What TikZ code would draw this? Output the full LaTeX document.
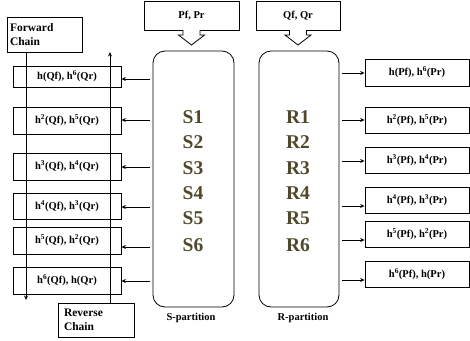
\documentclass[tikz,border=0pt]{standalone}
\usepackage{fontspec}
\setmainfont{Liberation Serif}
\usetikzlibrary{arrows.meta}
\definecolor{olive}{RGB}{79,73,41}
\begin{document}
\begin{tikzpicture}[x=1pt,y=-1pt,
  every node/.style={font=\bfseries},
  hbox/.style={draw,line width=0.8pt,minimum width=#1,inner sep=0pt,font=\bfseries\fontsize{10.5}{12}\selectfont},
  part/.style={draw,line width=0.8pt,rounded corners=12pt},
  sr/.style={text=olive,font=\bfseries\fontsize{19.5}{20}\selectfont},
  lab/.style={font=\bfseries\fontsize{10.5}{12}\selectfont},
  chainbox/.style={draw,line width=0.8pt,inner sep=0pt,align=left,font=\bfseries\fontsize{11.5}{14}\selectfont},
  arr/.style={line width=0.8pt,-{Stealth[length=4.5pt,width=4pt]}},
  ln/.style={line width=0.8pt}]
\useasboundingbox (0,0) rectangle (470,340);
% top input boxes
\node[draw,line width=0.8pt,minimum width=95pt,minimum height=29pt,inner sep=0pt,lab] (pf) at (191.5,15.5) {Pf, Pr};
\node[draw,line width=0.8pt,minimum width=84pt,minimum height=29pt,inner sep=0pt,lab] (qf) at (298,15.5) {Qf, Qr};
% block arrows
\foreach \c/\n in {191.5/pf,298/qf}{
  \fill[white] (\c-8.5,29) -- (\c-8.5,35) -- (\c-13,35) -- (\c,45) -- (\c+13,35) -- (\c+8.5,35) -- (\c+8.5,29) -- cycle;
  \draw[ln,line join=miter] (\c-8.5,30) -- (\c-8.5,35) -- (\c-13,35) -- (\c,45) -- (\c+13,35) -- (\c+8.5,35) -- (\c+8.5,30);
}
% partitions
\draw[part] (153,51) rectangle (234,307);
\draw[part] (259,51) rectangle (339,307);
\foreach \i/\y in {1/117,2/142,3/168,4/193,5/218,6/245}{
  \node[sr] (s\i) at (193,\y) {S\i};
  \node[sr] (r\i) at (298,\y) {R\i};
}
\node[lab] (slab) at (191,318) {S-partition};
\node[lab] (rlab) at (303,318) {R-partition};
% chain boxes
\node[chainbox,minimum width=75pt,minimum height=35pt,text width=69pt] (fc) at (44.5,34.5) {Forward\\Chain};
\node[chainbox,minimum width=76pt,minimum height=34pt,text width=64pt] (rc) at (96,320) {Reverse\\Chain};
% left boxes
\node[hbox=108pt,minimum height=21pt] (l1) at (67,76.5) {h(Qf), h\textsuperscript{6}(Qr)};
\node[hbox=108pt,minimum height=27pt] (l2) at (67,120.5) {h\textsuperscript{2}(Qf), h\textsuperscript{5}(Qr)};
\node[hbox=108pt,minimum height=27pt] (l3) at (67,166.5) {h\textsuperscript{3}(Qf), h\textsuperscript{4}(Qr)};
\node[hbox=108pt,minimum height=26pt] (l4) at (67,206) {h\textsuperscript{4}(Qf), h\textsuperscript{3}(Qr)};
\node[hbox=108pt,minimum height=27pt] (l5) at (67,240.5) {h\textsuperscript{5}(Qf), h\textsuperscript{2}(Qr)};
\node[hbox=108pt,minimum height=27pt] (l6) at (67,280.5) {h\textsuperscript{6}(Qf), h(Qr)};
% right boxes
\node[hbox=104pt,minimum height=27pt] (q1) at (417,72.5) {h(Pf), h\textsuperscript{6}(Pr)};
\node[hbox=104pt,minimum height=26pt] (q2) at (417,120) {h\textsuperscript{2}(Pf), h\textsuperscript{5}(Pr)};
\node[hbox=104pt,minimum height=26pt] (q3) at (417,160) {h\textsuperscript{3}(Pf), h\textsuperscript{4}(Pr)};
\node[hbox=104pt,minimum height=26pt] (q4) at (417,200) {h\textsuperscript{4}(Pf), h\textsuperscript{3}(Pr)};
\node[hbox=104pt,minimum height=26pt] (q5) at (417,234) {h\textsuperscript{5}(Pf), h\textsuperscript{2}(Pr)};
\node[hbox=104pt,minimum height=26pt] (q6) at (417,274) {h\textsuperscript{6}(Pf), h(Pr)};
% chain lines
\coordinate (fend) at (26,300);
\coordinate (rend) at (110,52);
\draw[arr] (fc.south -| fend) -- (fend);
\draw[arr] (rc.north -| rend) -- (rend);
% left arrows
\foreach \i/\y in {1/79,2/120,3/167,4/207,5/247,6/281}{
  \coordinate (la\i) at (150,\y);
  \draw[arr] (la\i) -- (la\i -| l\i.east);
}
% right arrows
\foreach \i/\y in {1/73,2/120,3/161,4/206,5/240,6/280}{
  \coordinate (ra\i) at (342,\y);
  \draw[arr] (ra\i) -- (ra\i -| q\i.west);
}
\end{tikzpicture}
\end{document}
